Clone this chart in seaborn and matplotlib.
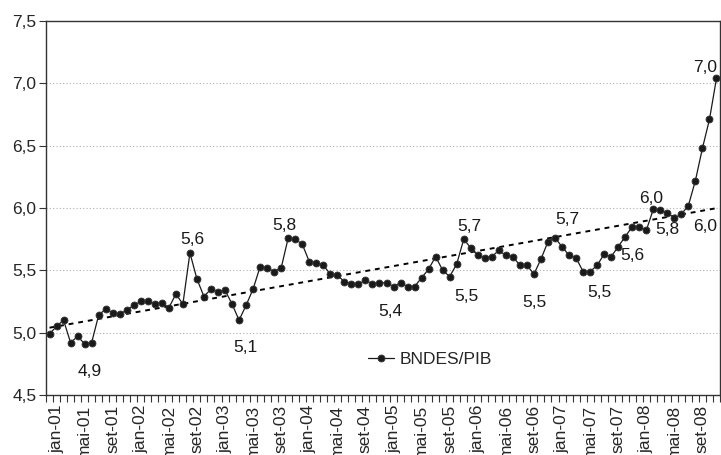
import numpy as np
import pandas as pd
import matplotlib
matplotlib.use('Agg')
import matplotlib.pyplot as plt
import seaborn as sns

# Monthly data, dez-00 to nov-08
month_names = ['jan', 'fev', 'mar', 'abr', 'mai', 'jun', 'jul', 'ago', 'set', 'out', 'nov', 'dez']
months = ['dez-00'] + [f'{m}-{y:02d}' for y in range(1, 9) for m in month_names][:95]

bndes_pib = [4.99, 5.05, 5.10, 4.92, 4.97, 4.91, 4.92, 5.14, 5.19, 5.16,
             5.15, 5.18, 5.22, 5.25, 5.25, 5.23, 5.24, 5.20, 5.31, 5.23,
             5.64, 5.43, 5.29, 5.35, 5.33, 5.34, 5.23, 5.10, 5.22, 5.35,
             5.53, 5.52, 5.49, 5.52, 5.76, 5.75, 5.71, 5.57, 5.56, 5.54,
             5.47, 5.46, 5.41, 5.39, 5.39, 5.42, 5.39, 5.40, 5.40, 5.37,
             5.40, 5.37, 5.37, 5.44, 5.51, 5.61, 5.50, 5.45, 5.55, 5.75,
             5.68, 5.62, 5.60, 5.61, 5.66, 5.62, 5.61, 5.54, 5.54, 5.47,
             5.59, 5.73, 5.76, 5.69, 5.62, 5.60, 5.49, 5.49, 5.54, 5.63,
             5.61, 5.69, 5.77, 5.85, 5.85, 5.82, 5.99, 5.98, 5.96, 5.92,
             5.95, 6.02, 6.22, 6.48, 6.71, 7.04]

# value labels written on the chart: (month, text, y position)
note_months = ['mai-01', 'ago-02', 'abr-03', 'out-03', 'dez-04', 'nov-05', 'nov-05',
               'set-06', 'fev-07', 'jul-07', 'dez-07', 'fev-08', 'abr-08', 'set-08', 'set-08']
note_texts = ['4,9', '5,6', '5,1', '5,8', '5,4', '5,7', '5,5',
              '5,5', '5,7', '5,5', '5,6', '6,0', '5,8', '6,0', '7,0']
note_y = [4.69, 5.75, 4.88, 5.86, 5.17, 5.85, 5.29,
          5.24, 5.91, 5.32, 5.62, 6.08, 5.83, 5.85, 7.13]
note_shift = [0.7, 0.3, -0.1, -0.5, 0.6, 0.8, 0.4,
              0.1, -0.2, -0.7, -1.0, -0.3, 0.0, 0.4, 0.4]

df = pd.DataFrame({'mes': months, 'valor': bndes_pib})
df['pos'] = np.arange(len(df))

sns.set_style('ticks')
plt.rcParams['font.family'] = ['Liberation Sans', 'DejaVu Sans']

fig = plt.figure(figsize=(7.21, 4.55), dpi=100)
ax = fig.add_axes([0.0638, 0.1319, 0.9348, 0.8219])

# linear trend
coef = np.polyfit(df['pos'], df['valor'], 1)
ax.plot(df['pos'], np.polyval(coef, df['pos']), color='black', lw=1.4,
        linestyle=(0, (2.5, 2.5)), zorder=2)

sns.lineplot(data=df, x='pos', y='valor', ax=ax, color='#1a1a1a', lw=0.9,
             marker='o', markersize=5, markeredgecolor='#333333',
             markeredgewidth=0.6, label='BNDES/PIB', zorder=3)

for m, t, y, s in zip(note_months, note_texts, note_y, note_shift):
    ax.text(months.index(m) + s, y, t, ha='center', va='center', fontsize=12.5,
            color='#1a1a1a')

ax.set_ylim(4.5, 7.5)
ax.set_xlim(-0.5, len(months) - 0.5)
yt = np.arange(4.5, 7.51, 0.5)
ax.set_yticks(yt)
ax.set_yticklabels([f'{v:.1f}'.replace('.', ',') for v in yt], fontsize=12.5)
for v in yt[1:-1]:
    ax.axhline(v, color='#b0b0b0', lw=0.8, linestyle=(0, (1, 2)), zorder=1)

# ticks between months, labels every 4 months
ax.set_xticks(np.arange(-0.5, len(months), 1))
ax.set_xticklabels([])
lab_pos = list(range(1, len(months), 4))
ax.set_xticks(lab_pos, minor=True)
ax.set_xticklabels([months[i] for i in lab_pos], minor=True, rotation=90, fontsize=12.5)
ax.tick_params(axis='x', which='major', direction='out', length=5, width=0.8, color='#333333')
ax.tick_params(axis='x', which='minor', length=0, pad=7)
ax.tick_params(axis='y', direction='out', length=5, width=0.8, color='#333333', pad=2)
ax.set_xlabel('')
ax.set_ylabel('')

for sp in ax.spines.values():
    sp.set_color('#333333')
    sp.set_linewidth(1.0)

ax.legend(frameon=False, loc='center left', bbox_to_anchor=(0.465, 0.096),
          fontsize=12.5, handlelength=1.5, handletextpad=0.3, borderpad=0)

fig.savefig('out.png', dpi=100)
